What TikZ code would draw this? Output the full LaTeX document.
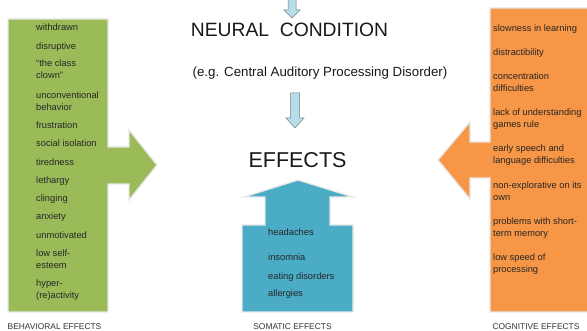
\documentclass[tikz,border=0pt]{standalone}
\usepackage{fontspec}
\setmainfont{Liberation Sans}
\definecolor{behav}{HTML}{9BBB59}
\definecolor{cogn}{HTML}{F79646}
\definecolor{somat}{HTML}{4BACC6}
\definecolor{flowfill}{HTML}{B7DDE8}
\definecolor{flowline}{HTML}{6F7F86}
\begin{document}
\begin{tikzpicture}[x=1pt,y=-1pt,
  block/.style={draw=black!9,line width=1.3pt,line join=miter},
  flow/.style={fill=flowfill,draw=flowline,line width=0.5pt},
  item/.style={inner sep=0pt,anchor=base west,align=left,
    font=\fontsize{9.3}{12.3}\selectfont,text=black!85},
  caption/.style={inner sep=0pt,anchor=base,font=\fontsize{8.4}{10}\selectfont,text=black!80},
  title/.style={inner sep=0pt,anchor=base,text=black!90}]
\useasboundingbox (0,0) rectangle (587,331);
\fill[white] (0,0) rectangle (587,331);

% behavioral block arrow (pointing right)
\draw[block,fill=behav] (8,19) -- (108,19) -- (108,147) -- (129,147) -- (129,130)
  -- (157,165) -- (129,200) -- (129,184) -- (108,184) -- (108,312) -- (8,312) -- cycle;
% cognitive block arrow (pointing left)
\draw[block,fill=cogn] (592,8) -- (490,8) -- (490,142) -- (470,142) -- (470,122)
  -- (438,160) -- (470,199) -- (470,178) -- (490,178) -- (490,312) -- (592,312);
% somatic block arrow (pointing up)
\draw[block,fill=somat] (242,312) -- (242,225) -- (265,225) -- (265,197) -- (244,197)
  -- (298,180) -- (353,197) -- (330,197) -- (330,225) -- (353,225) -- (353,312) -- cycle;

% flow arrows
\draw[flow] (288,-2) -- (296,-2) -- (296,10) -- (300,10) -- (292,18) -- (284,10)
  -- (288,10) -- cycle;
\draw[flow] (290.5,93) -- (299.5,93) -- (299.5,118) -- (304,118) -- (295,128)
  -- (286,118) -- (290.5,118) -- cycle;

% titles
\node[title,font=\fontsize{19.3}{22}\selectfont] (neural) at (289.5,37) {NEURAL\ \ CONDITION};
\node[title,font=\fontsize{13.3}{15}\selectfont] (example) at (320,77) {(e.g. Central Auditory Processing Disorder)};
\node[title,font=\fontsize{21.5}{25}\selectfont] (effects) at (297.5,168) {EFFECTS};

% behavioral effects (base anchor = last line's baseline)
\node[item] (b1) at (36,30.5) {withdrawn};
\node[item] (b2) at (36,49.5) {disruptive};
\node[item] (b3) at (36,78.8) {“the class\\clown”};
\node[item] (b4) at (36,110.8) {unconventional\\behavior};
\node[item] (b5) at (36,128.5) {frustration};
\node[item] (b6) at (36,146.5) {social isolation};
\node[item] (b7) at (36,165.5) {tiredness};
\node[item] (b8) at (36,183.5) {lethargy};
\node[item] (b9) at (36,201.5) {clinging};
\node[item] (b10) at (36,219.5) {anxiety};
\node[item] (b11) at (36,238.5) {unmotivated};
\node[item] (b12) at (36,268.8) {low self-\\esteem};
\node[item] (b13) at (36,298.8) {hyper-\\(re)activity};

% cognitive effects
\node[item] (c1) at (493,31.5) {slowness in learning};
\node[item] (c2) at (493,55.5) {distractibility};
\node[item] (c3) at (493,91.8) {concentration\\difficulties};
\node[item] (c4) at (493,127.8) {lack of understanding\\games rule};
\node[item] (c5) at (493,163.8) {early speech and\\language difficulties};
\node[item] (c6) at (493,200.8) {non-explorative on its\\own};
\node[item] (c7) at (493,236.8) {problems with short-\\term memory};
\node[item] (c8) at (493,272.8) {low speed of\\processing};

% somatic effects
\node[item] (s1) at (268,235.5) {headaches};
\node[item] (s2) at (268,260.5) {insomnia};
\node[item] (s3) at (268,279.5) {eating disorders};
\node[item] (s4) at (268,296.5) {allergies};

% captions
\node[caption] (capb) at (54.5,330) {BEHAVIORAL EFFECTS};
\node[caption] (caps) at (292.5,330) {SOMATIC EFFECTS};
\node[caption] (capc) at (536,330) {COGNITIVE EFFECTS};
\end{tikzpicture}
\end{document}
